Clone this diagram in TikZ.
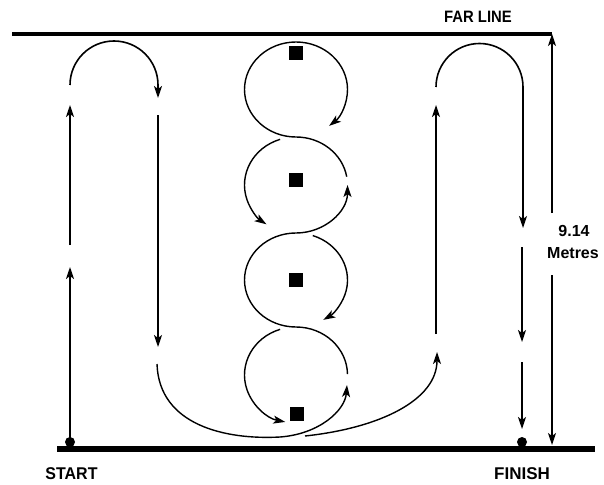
\documentclass[tikz,border=0pt]{standalone}
\usepackage{fontspec}
\setmainfont{Liberation Sans}
\usetikzlibrary{arrows.meta}
\begin{document}
\begin{tikzpicture}[x=1pt,y=1pt,
  route/.style={line width=1.6pt},
  weave/.style={line width=1.4pt},
  dim/.style={line width=1.3pt},
  tip/.style={-{Stealth[length=12pt,width=8pt,inset=3pt]}},
  cone/.style={fill=black,draw=none,minimum size=14pt,inner sep=0pt},
  dot/.style={circle,fill=black,draw=none,minimum size=10pt,inner sep=0pt},
  lbl/.style={inner sep=0pt,font=\bfseries}]
\useasboundingbox (0,0) rectangle (604,-484);
% base lines
\coordinate (farL) at (12,-34);
\coordinate (farR) at (552,-34);
\coordinate (baseL) at (57,-449);
\coordinate (baseR) at (595,-449);
\draw[line width=3.5pt] (farL) -- (farR);
\draw[line width=6pt] (baseL) -- (baseR);
% labels
\node[lbl] (far) at (478,-17) {\fontsize{16.5}{16.5}\selectfont\scalebox{0.9}[1]{FAR LINE}};
\node[lbl] (start) at (71.5,-473.5) {\fontsize{17}{17}\selectfont\scalebox{0.94}[1]{START}};
\node[lbl] (finish) at (522,-474) {\fontsize{17}{17}\selectfont FINISH};
\node[lbl] (num) at (574,-231) {\fontsize{16}{16}\selectfont 9.14};
\node[lbl] (unit) at (573,-253.5) {\fontsize{16}{16}\selectfont Metres};
% dimension
\coordinate (dA) at (552,-213);
\coordinate (dAt) at (552,-34);
\coordinate (dB) at (552,-275);
\coordinate (dBt) at (552,-445);
\draw[dim,tip] (dA) -- (dAt);
\draw[dim,tip] (dB) -- (dBt);
% cones
\node[cone] (k1) at (296,-53) {};
\node[cone] (k2) at (296,-180) {};
\node[cone] (k3) at (296,-280) {};
\node[cone] (k4) at (297,-414) {};
% dots
\node[dot] (s) at (70,-442) {};
\node[dot] (f) at (522,-442) {};
% left route
\coordinate (l1) at (70,-267);
\coordinate (l2) at (70,-245);
\coordinate (l3) at (70,-105);
\coordinate (l4) at (70,-85);
\coordinate (l5) at (158,-98);
\coordinate (l6) at (158,-115);
\coordinate (l7) at (158,-347);
\coordinate (l8) at (157,-364);
\draw[route,tip] (s.center) -- (l1);
\draw[route,tip] (l2) -- (l3);
\draw[route,tip] (l4) arc[start angle=180,end angle=0,radius=44] -- (l5);
\draw[route,tip] (l6) -- (l7);
% weave centres
\coordinate (c1) at (296,-89.5);
\coordinate (c2) at (296,-185);
\coordinate (c3) at (296,-280);
\coordinate (c4) at (296,-375);
% upward weave
\draw[weave,tip] (l8) .. controls (159,-425) and (225,-440) .. (280,-437)
  .. controls (320,-434) and (345,-410) .. (347,-385);
\draw[weave,tip] ([shift={(1:51.5 and 48)}]c4)
  arc[start angle=1,end angle=90,x radius=51.5,y radius=48]
  arc[start angle=270,end angle=90,x radius=51.5,y radius=47]
  arc[start angle=270,end angle=360,x radius=51.5,y radius=48];
\draw[weave,tip] ([shift={(10:51.5 and 48)}]c2)
  arc[start angle=10,end angle=90,x radius=51.5,y radius=48]
  arc[start angle=270,end angle=-50,x radius=51.5,y radius=47.5];
% downward weave
\draw[weave,tip] ([shift={(108:51.5 and 48)}]c2)
  arc[start angle=108,end angle=235,x radius=51.5,y radius=48];
\draw[weave,tip] ([shift={(71:51.5 and 47)}]c3)
  arc[start angle=71,end angle=-58,x radius=51.5,y radius=47];
\draw[weave,tip] ([shift={(108:51.5 and 48)}]c4)
  arc[start angle=108,end angle=258,x radius=51.5,y radius=48];
\coordinate (w1) at (305,-436);
\coordinate (r0) at (437,-352);
\draw[weave,tip] (w1) .. controls (380,-428) and (437,-400) .. (r0);
% right route
\coordinate (r1) at (436,-334);
\coordinate (r2) at (436,-105);
\coordinate (r3) at (436,-87);
\coordinate (r4) at (523,-228);
\coordinate (r5) at (522,-247);
\coordinate (r6) at (522,-342);
\coordinate (r7) at (522,-362);
\coordinate (r8) at (522,-429);
\draw[route,tip] (r1) -- (r2);
\draw[route,tip] (r3) arc[start angle=180,end angle=0,radius=43.5] -- (r4);
\draw[route,tip] (r5) -- (r6);
\draw[route,tip] (r7) -- (r8);
\end{tikzpicture}
\end{document}
